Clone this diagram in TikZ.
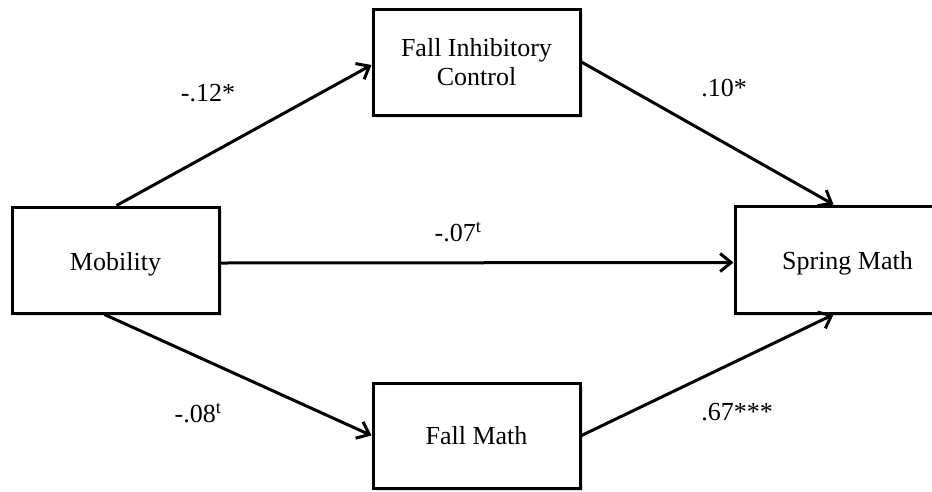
\documentclass[tikz,border=0pt]{standalone}
\usepackage{fontspec}
\setmainfont{Liberation Serif}
\usetikzlibrary{arrows.meta,shadows,calc}
\tikzset{
  box/.style={draw=black, line width=3pt, fill=white, minimum height=106pt, align=center,
    font=\fontsize{26}{29}\selectfont, inner sep=0pt,
    drop shadow={opacity=0.25, shadow xshift=2.5pt, shadow yshift=-2.5pt}},
  path/.style={line width=3pt, -{Straight Barb[length=11pt,width=18pt,line width=3pt]}},
  coef/.style={font=\fontsize{26}{29}\selectfont, inner sep=0pt}
}
\begin{document}
\begin{tikzpicture}[x=1pt,y=-1pt]
\useasboundingbox[fill=white] (0,0) rectangle (932,491);
\node[box, minimum width=207pt] (mob) at (115.5,260) {\raisebox{-4pt}[\height][\depth]{Mobility}};
\node[box, minimum width=207pt] (fic) at (476.5,62) {Fall Inhibitory\\Control};
\node[box, minimum width=225pt, minimum height=107pt] (sm) at (847.5,259.5) {\raisebox{-4pt}[\height][\depth]{Spring Math}};
\node[box, minimum width=207pt, minimum height=105pt] (fm) at (476.5,435.5) {Fall Math};
\draw[path] ([xshift=1pt]mob.north) -- ([yshift=-3pt]fic.west);
\draw[path] (fic.east) -- ([xshift=-14pt]sm.north);
\draw[path] ([yshift=-3pt]mob.east) -- ([yshift=-3pt]sm.west);
\draw[path] ([xshift=-11pt]mob.south) -- (fm.west);
\draw[path] (fm.east) -- ([xshift=-14pt]sm.south);
\node[coef] (c1) at (208,93) {-.12*};
\node[coef] (c2) at (724,88) {.10*};
\node[coef] (c3) at (458,232) {-.07\textsuperscript{t}};
\node[coef] (c4) at (198,413) {-.08\textsuperscript{t}};
\node[coef] (c5) at (737,412) {.67***};
\end{tikzpicture}
\end{document}
